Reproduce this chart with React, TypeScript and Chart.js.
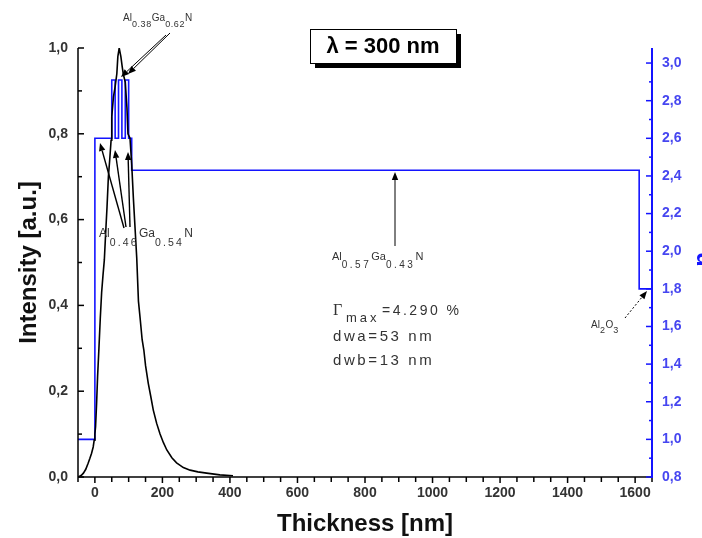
import React, { useEffect, useRef } from 'react';
import { Chart, registerables } from 'chart.js';

Chart.register(...registerables);

// ---- Data ----
const thicknessNm = [
  -50, -45, -40, -34, -27, -20, -15, -10, -5, -2, 0, 2, 5, 8, 12, 16, 20, 24, 28, 32, 36, 40, 44, 48,
  50, 55, 60, 65, 68, 72, 77, 81, 84, 90, 95, 98, 104, 109, 114, 119, 124, 129, 134, 140, 145, 150,
  158, 165, 173, 183, 193, 203, 213, 228, 242, 262, 282, 305, 331, 370, 409,
];
const intensity = [
  0, 0.002, 0.004, 0.009, 0.018, 0.032, 0.043, 0.055, 0.07, 0.086, 0.1, 0.117, 0.17, 0.234, 0.3, 0.37,
  0.43, 0.47, 0.506, 0.57, 0.63, 0.7, 0.74, 0.785, 0.84, 0.886, 0.91, 0.94, 0.98, 1.0, 0.98, 0.956,
  0.94, 0.92, 0.86, 0.8, 0.79, 0.73, 0.65, 0.58, 0.51, 0.41, 0.37, 0.32, 0.296, 0.26, 0.219, 0.19,
  0.156, 0.125, 0.1, 0.08, 0.063, 0.045, 0.033, 0.022, 0.016, 0.012, 0.009, 0.005, 0.003,
];
const layerStartNm = [-50, 0, 50, 60, 70, 80, 90, 100, 109, 1612, 1650];
const refractiveIndex = [1.0, 2.6, 2.91, 2.6, 2.91, 2.6, 2.91, 2.6, 2.43, 1.8, 1.8];

const xTicks = [0, 200, 400, 600, 800, 1000, 1200, 1400, 1600];
const xTickLabels = ['0', '200', '400', '600', '800', '1000', '1200', '1400', '1600'];
const yTicks = [0, 0.2, 0.4, 0.6, 0.8, 1.0];
const yTickLabels = ['0,0', '0,2', '0,4', '0,6', '0,8', '1,0'];
const nTicks = [0.8, 1.0, 1.2, 1.4, 1.6, 1.8, 2.0, 2.2, 2.4, 2.6, 2.8, 3.0];
const nTickLabels = ['0,8', '1,0', '1,2', '1,4', '1,6', '1,8', '2,0', '2,2', '2,4', '2,6', '2,8', '3,0'];

const BLUE = '#1414ff';
const SANS = '"Liberation Sans", Arial, sans-serif';
const SERIF = '"Liberation Serif", "Times New Roman", serif';

type Part = [string, boolean];

function drawFormula(
  ctx: CanvasRenderingContext2D,
  x: number,
  y: number,
  parts: Part[],
  mainSize: number,
  subSize: number,
  subDy: number,
  subSpacing: number
) {
  let cx = x;
  for (const [t, sub] of parts) {
    ctx.font = `${sub ? subSize : mainSize}px ${SANS}`;
    (ctx as any).letterSpacing = sub ? `${subSpacing}px` : '0px';
    ctx.fillText(t, cx, sub ? y + subDy : y);
    cx += ctx.measureText(t).width;
  }
  (ctx as any).letterSpacing = '0px';
}

function arrow(
  ctx: CanvasRenderingContext2D,
  x1: number,
  y1: number,
  x2: number,
  y2: number,
  width = 1,
  dash: number[] = []
) {
  const ang = Math.atan2(y2 - y1, x2 - x1);
  const hl = 8;
  const hw = 3.2;
  const bx = x2 - hl * Math.cos(ang);
  const by = y2 - hl * Math.sin(ang);
  ctx.save();
  ctx.strokeStyle = '#000';
  ctx.fillStyle = '#000';
  ctx.lineWidth = width;
  ctx.setLineDash(dash);
  ctx.beginPath();
  ctx.moveTo(x1, y1);
  ctx.lineTo(bx, by);
  ctx.stroke();
  ctx.setLineDash([]);
  ctx.beginPath();
  ctx.moveTo(x2, y2);
  ctx.lineTo(bx + hw * Math.sin(ang), by - hw * Math.cos(ang));
  ctx.lineTo(bx - hw * Math.sin(ang), by + hw * Math.cos(ang));
  ctx.closePath();
  ctx.fill();
  ctx.restore();
}

const decorPlugin = {
  id: 'decor',
  afterDatasetsDraw(chart: any) {
    const { ctx, chartArea: ca, scales } = chart;
    const sx = scales.x;
    const sy = scales.y;
    const sn = scales.y1;
    const seg = (a: number, b: number, c: number, d: number) => {
      ctx.beginPath();
      ctx.moveTo(a, b);
      ctx.lineTo(c, d);
      ctx.stroke();
    };
    ctx.save();
    // left axis
    ctx.strokeStyle = '#000';
    ctx.lineWidth = 1.5;
    seg(ca.left, ca.top, ca.left, ca.bottom);
    for (let i = 0; i <= 10; i++) {
      const py = sy.getPixelForValue(i / 10);
      seg(ca.left, py, ca.left + (i % 2 === 0 ? 6 : 4), py);
    }
    // bottom axis
    seg(ca.left, ca.bottom, ca.right, ca.bottom);
    for (let v = -50; v <= 1650; v += 50) {
      const px = sx.getPixelForValue(v);
      seg(px, ca.bottom, px, ca.bottom + (v % 200 === 0 ? 6 : 5));
    }
    // right axis
    ctx.strokeStyle = BLUE;
    ctx.lineWidth = 2;
    seg(ca.right, ca.top, ca.right, ca.bottom + 1);
    ctx.lineWidth = 1.5;
    for (let i = 8; i <= 30; i++) {
      const py = sn.getPixelForValue(i / 10);
      seg(ca.right, py, ca.right - (i % 2 === 0 ? 6 : 3), py);
    }

    // axis titles
    ctx.fillStyle = '#111';
    ctx.font = `bold 24px ${SANS}`;
    ctx.textAlign = 'center';
    ctx.textBaseline = 'middle';
    ctx.fillText('Thickness [nm]', (ca.left + ca.right) / 2, 524);
    ctx.save();
    ctx.translate(29, (ca.top + ca.bottom) / 2);
    ctx.rotate(-Math.PI / 2);
    ctx.fillText('Intensity [a.u.]', 0, 0);
    ctx.restore();
    ctx.save();
    ctx.fillStyle = BLUE;
    ctx.translate(710, (ca.top + ca.bottom) / 2 - 3);
    ctx.rotate(-Math.PI / 2);
    ctx.textBaseline = 'alphabetic';
    ctx.fillText('n', 0, 0);
    ctx.restore();

    // lambda box
    ctx.fillStyle = '#000';
    ctx.fillRect(315, 34, 146, 34);
    ctx.fillStyle = '#fff';
    ctx.fillRect(310, 29, 146, 34);
    ctx.strokeStyle = '#000';
    ctx.lineWidth = 1;
    ctx.strokeRect(310.5, 29.5, 146, 34);
    ctx.fillStyle = '#000';
    ctx.font = `bold 22px ${SANS}`;
    ctx.textAlign = 'center';
    ctx.textBaseline = 'middle';
    ctx.fillText('\u03bb = 300 nm', 383, 47);

    // formulas
    ctx.textAlign = 'left';
    ctx.textBaseline = 'alphabetic';
    ctx.fillStyle = '#333';
    drawFormula(ctx, 123, 21, [['Al', false], ['0.38', true], ['Ga', false], ['0.62', true], ['N', false]], 10, 9, 6, 0.6);
    drawFormula(ctx, 99, 237, [['Al', false], ['0.46', true], ['Ga', false], ['0.54', true], ['N', false]], 12, 10.5, 9, 2.2);
    drawFormula(ctx, 332, 260, [['Al', false], ['0.57', true], ['Ga', false], ['0.43', true], ['N', false]], 11, 10, 8, 2.5);
    drawFormula(ctx, 591, 328, [['Al', false], ['2', true], ['O', false], ['3', true]], 10, 9, 5, 0.5);

    // Gamma text
    ctx.font = `16px ${SERIF}`;
    ctx.fillText('\u0393', 333, 315);
    ctx.font = `13px ${SANS}`;
    (ctx as any).letterSpacing = '3px';
    ctx.fillText('max', 346, 322);
    ctx.font = `14px ${SANS}`;
    (ctx as any).letterSpacing = '2.5px';
    ctx.fillText('=4.290 %', 382, 315);
    ctx.font = `15px ${SANS}`;
    (ctx as any).letterSpacing = '2.6px';
    ctx.fillText('dwa=53 nm', 333, 341);
    ctx.fillText('dwb=13 nm', 333, 365);
    (ctx as any).letterSpacing = '0px';

    // arrows
    arrow(ctx, 170, 33, 128, 74, 1);
    arrow(ctx, 166, 35, 121, 77, 1);
    arrow(ctx, 124, 228, 100, 143, 1.4);
    arrow(ctx, 126, 227, 115, 150, 1.4);
    arrow(ctx, 130, 227, 128, 152, 1.4);
    arrow(ctx, 395, 246, 395, 172, 1);
    arrow(ctx, 625, 318, 647, 291, 1, [2, 2]);
    ctx.restore();
  },
};

export default function App() {
  const ref = useRef<HTMLCanvasElement | null>(null);
  useEffect(() => {
    if (!ref.current) return;
    const tickFont = { family: SANS, size: 14, weight: 'bold' as const };
    const chart = new Chart(ref.current, {
      type: 'line',
      data: {
        datasets: [
          {
            label: 'Intensity',
            data: thicknessNm.map((x, i) => ({ x, y: intensity[i] })),
            yAxisID: 'y',
            borderColor: '#000',
            borderWidth: 1.6,
            pointRadius: 0,
            tension: 0,
          },
          {
            label: 'n',
            data: layerStartNm.map((x, i) => ({ x, y: refractiveIndex[i] })),
            yAxisID: 'y1',
            borderColor: BLUE,
            borderWidth: 1.6,
            pointRadius: 0,
            stepped: 'before',
          },
        ],
      },
      options: {
        animation: false,
        responsive: false,
        devicePixelRatio: 1,
        layout: { padding: { top: 48, left: 0, right: 0, bottom: 0 } },
        plugins: { legend: { display: false }, tooltip: { enabled: false } },
        scales: {
          x: {
            type: 'linear',
            min: -50,
            max: 1650,
            grid: { display: false, drawTicks: false },
            border: { display: false },
            afterBuildTicks: (s: any) => {
              s.ticks = xTicks.map((v) => ({ value: v }));
            },
            afterFit: (s: any) => {
              s.height = 61;
            },
            ticks: {
              autoSkip: false,
              maxRotation: 0,
              padding: 8,
              color: '#333',
              font: tickFont,
              callback: (v: any) => xTickLabels[xTicks.indexOf(v)],
            },
          },
          y: {
            type: 'linear',
            position: 'left',
            min: 0,
            max: 1.0,
            grid: { display: false, drawTicks: false },
            border: { display: false },
            afterBuildTicks: (s: any) => {
              s.ticks = yTicks.map((v) => ({ value: v }));
            },
            afterFit: (s: any) => {
              s.width = 78;
            },
            ticks: {
              padding: 10,
              color: '#333',
              font: tickFont,
              callback: (v: any) => yTickLabels[yTicks.indexOf(v)],
            },
          },
          y1: {
            type: 'linear',
            position: 'right',
            min: 0.8,
            max: 3.08,
            grid: { display: false, drawTicks: false },
            border: { display: false },
            afterBuildTicks: (s: any) => {
              s.ticks = nTicks.map((v) => ({ value: v }));
            },
            afterFit: (s: any) => {
              s.width = 50;
            },
            ticks: {
              padding: 10,
              color: '#4646f0',
              font: tickFont,
              callback: (v: any) => nTickLabels[nTicks.indexOf(v)],
            },
          },
        },
      },
      plugins: [decorPlugin],
    });
    return () => chart.destroy();
  }, []);
  return (
    <div style={{ position: 'fixed', left: 0, top: 0, width: 702, height: 538, background: '#fff' }}>
      <canvas ref={ref} width={702} height={538} style={{ display: 'block' }} />
    </div>
  );
}
